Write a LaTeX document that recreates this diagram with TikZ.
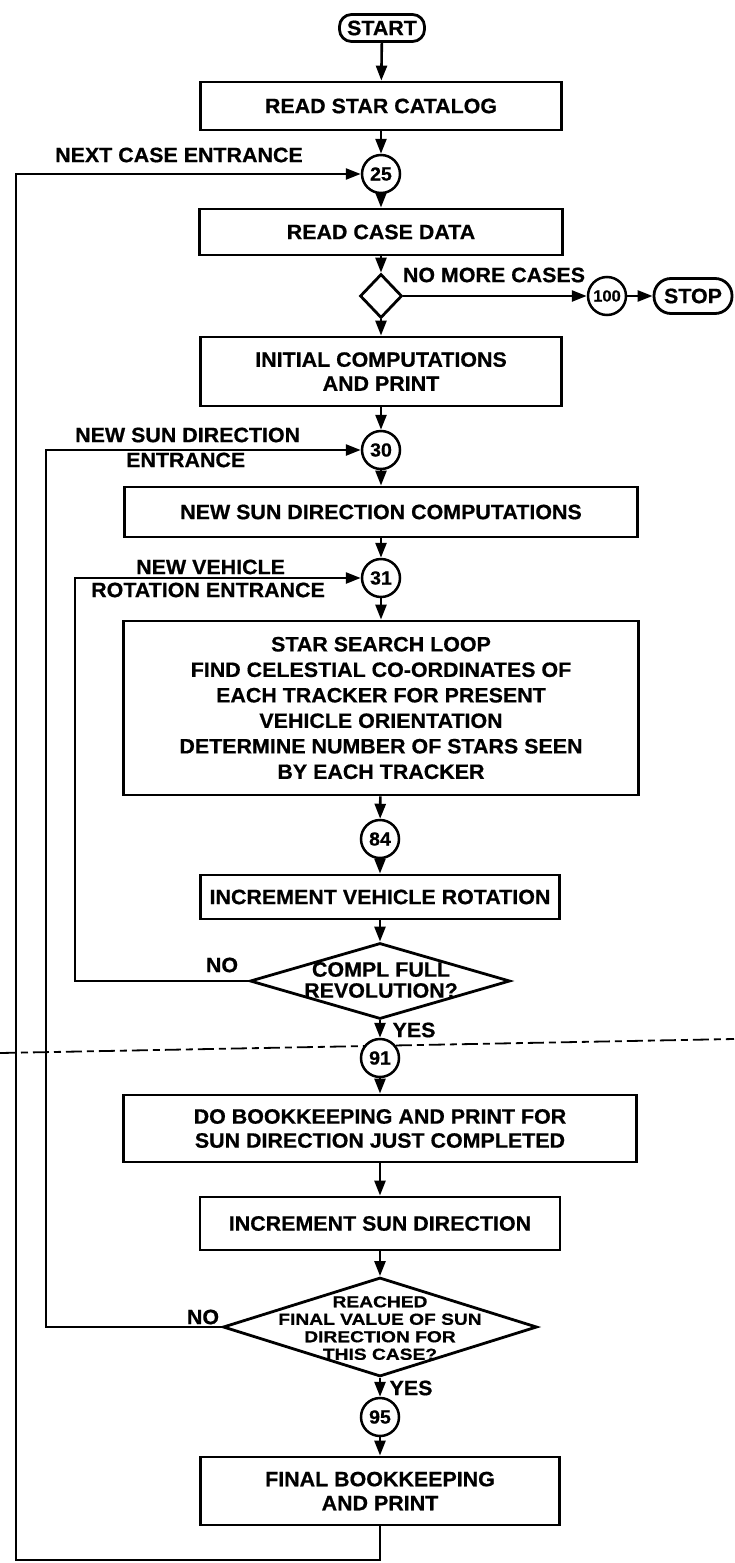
\documentclass[tikz,border=0pt]{standalone}
\usepackage{fontspec}
\setmainfont{Liberation Sans}[FakeStretch=1.03,FakeBold=0.6]
\newfontfamily\wideF{Liberation Sans}[FakeStretch=1.2,FakeBold=0.6]
\usetikzlibrary{shapes.geometric,arrows.meta}
\begin{document}
\begin{tikzpicture}[x=1pt,y=-1pt,
  every node/.style={font=\fontsize{20.8}{24}\selectfont\bfseries, inner sep=0pt},
  box/.style={draw, line width=2.8pt, align=center},
  circ/.style={draw, circle, line width=2.5pt, minimum size=38pt, fill=white, font=\fontsize{19}{19}\selectfont\bfseries},
  term/.style={draw, rounded corners=12pt, line width=2.8pt},
  dia/.style={draw, diamond, line width=2.8pt},
  arr/.style={line width=2.6pt, -{Triangle[length=15pt,width=11pt]}},
  ln/.style={line width=2.6pt}]
\fill[white] (0,0) rectangle (734,1563);
\useasboundingbox (0,0) rectangle (734,1563);
% dash-dot separation line
\coordinate (dl) at (0,1053);
\coordinate (dr) at (734,1039);
\draw[line width=1.8pt, dash pattern=on 16pt off 5pt on 7pt off 5pt] (dl) -- (dr);
% main column
\node[term, minimum width=85pt, minimum height=27pt] (start) at (382,28) {START};
\node[box, minimum width=361pt, minimum height=48pt] (b1) at (381,106) {READ STAR CATALOG};
\node[circ] (c25) at (381,174) {25};
\node[box, minimum width=363pt, minimum height=46pt] (b2) at (381,232) {READ CASE DATA};
\node[dia, minimum width=42pt, minimum height=44pt] (d0) at (381,296) {};
\node[circ, font=\fontsize{16}{16}\selectfont\bfseries] (c100) at (607,296) {100};
\node[term, rounded corners=17pt, minimum width=78pt, minimum height=35pt] (stop) at (693,296) {STOP};
\node[box, minimum width=361pt, minimum height=69pt] (b3) at (381,371.5) {INITIAL COMPUTATIONS\\AND PRINT};
\node[circ] (c30) at (381,450) {30};
\node[box, minimum width=513pt, minimum height=50pt] (b4) at (381,512) {NEW SUN DIRECTION COMPUTATIONS};
\node[circ] (c31) at (381,578) {31};
\node[box, minimum width=515pt, minimum height=174pt, font=\fontsize{20.8}{25.5}\selectfont\bfseries] (b5) at (381,708) {STAR SEARCH LOOP\\FIND CELESTIAL CO-ORDINATES OF\\EACH TRACKER FOR PRESENT\\VEHICLE ORIENTATION\\DETERMINE NUMBER OF STARS SEEN\\BY EACH TRACKER};
\node[circ] (c84) at (380,839) {84};
\node[box, minimum width=359pt, minimum height=44pt] (b6) at (380,897) {INCREMENT VEHICLE ROTATION};
\node[dia, minimum width=260pt, minimum height=76pt] (d1) at (380,981) {};
\node[font=\fontsize{20.8}{21}\selectfont\bfseries, align=center] (t1) at (381,980) {COMPL FULL\\REVOLUTION?};
\node[circ] (c91) at (380,1058) {91};
\node[box, minimum width=513pt, minimum height=67pt] (b7) at (380,1128.5) {DO BOOKKEEPING AND PRINT FOR\\SUN DIRECTION JUST COMPLETED};
\node[box, minimum width=360pt, minimum height=53pt] (b8) at (380,1223.5) {INCREMENT SUN DIRECTION};
\node[dia, minimum width=314pt, minimum height=99pt] (d2) at (380,1327) {};
\node[font=\wideF\fontsize{16}{17.5}\selectfont\bfseries, align=center] (t2) at (380,1328) {REACHED\\FINAL VALUE OF SUN\\DIRECTION FOR\\THIS CASE?};
\node[circ] (c95) at (380,1417) {95};
\node[box, minimum width=359pt, minimum height=68pt] (b9) at (380,1491) {FINAL BOOKKEEPING\\AND PRINT};
% labels
\node (lnext) at (179,155) {NEXT CASE ENTRANCE};
\node (lnomore) at (494,275) {NO MORE CASES};
\node[anchor=west] (lnsd1) at (75,435) {NEW SUN DIRECTION};
\node[anchor=west] (lnsd2) at (126,460) {ENTRANCE};
\node[anchor=west] (lnv1) at (136,567) {NEW VEHICLE};
\node[anchor=west] (lnv2) at (91,590) {ROTATION ENTRANCE};
\node (no1) at (222,965) {NO};
\node (yes1) at (414,1030) {YES};
\node (no2) at (203,1317) {NO};
\node (yes2) at (411,1388) {YES};
% connectors
\draw[arr] (start) -- (b1);
\draw[arr] (b1) -- (c25);
\draw[arr] (c25) -- (b2);
\draw[arr] (b2) -- (d0);
\draw[arr] (d0.east) -- (c100);
\draw[arr] (c100) -- (stop);
\draw[arr] (d0.south) -- (b3);
\draw[arr] (b3) -- (c30);
\draw[arr] (c30) -- (b4);
\draw[arr] (b4) -- (c31);
\draw[arr] (c31) -- (b5);
\draw[arr] (b5) -- (c84);
\draw[arr] (c84) -- (b6);
\draw[arr] (b6) -- (d1);
\draw[arr] (d1.south) -- (c91);
\draw[arr] (c91) -- (b7);
\draw[arr] (b7) -- (b8);
\draw[arr] (b8) -- (d2);
\draw[arr] (d2.south) -- (c95);
\draw[arr] (c95) -- (b9);
% loops
\coordinate (l1t) at (75,578);
\draw[arr] (d1.west) -| (l1t) -- (c31);
\coordinate (l2t) at (46,450);
\draw[arr] (d2.west) -| (l2t) -- (c30);
\coordinate (l3b) at (16,1560);
\coordinate (l3t) at (16,174);
\draw[arr] (b9.south) |- (l3b) -- (l3t) -- (c25);
\end{tikzpicture}
\end{document}
